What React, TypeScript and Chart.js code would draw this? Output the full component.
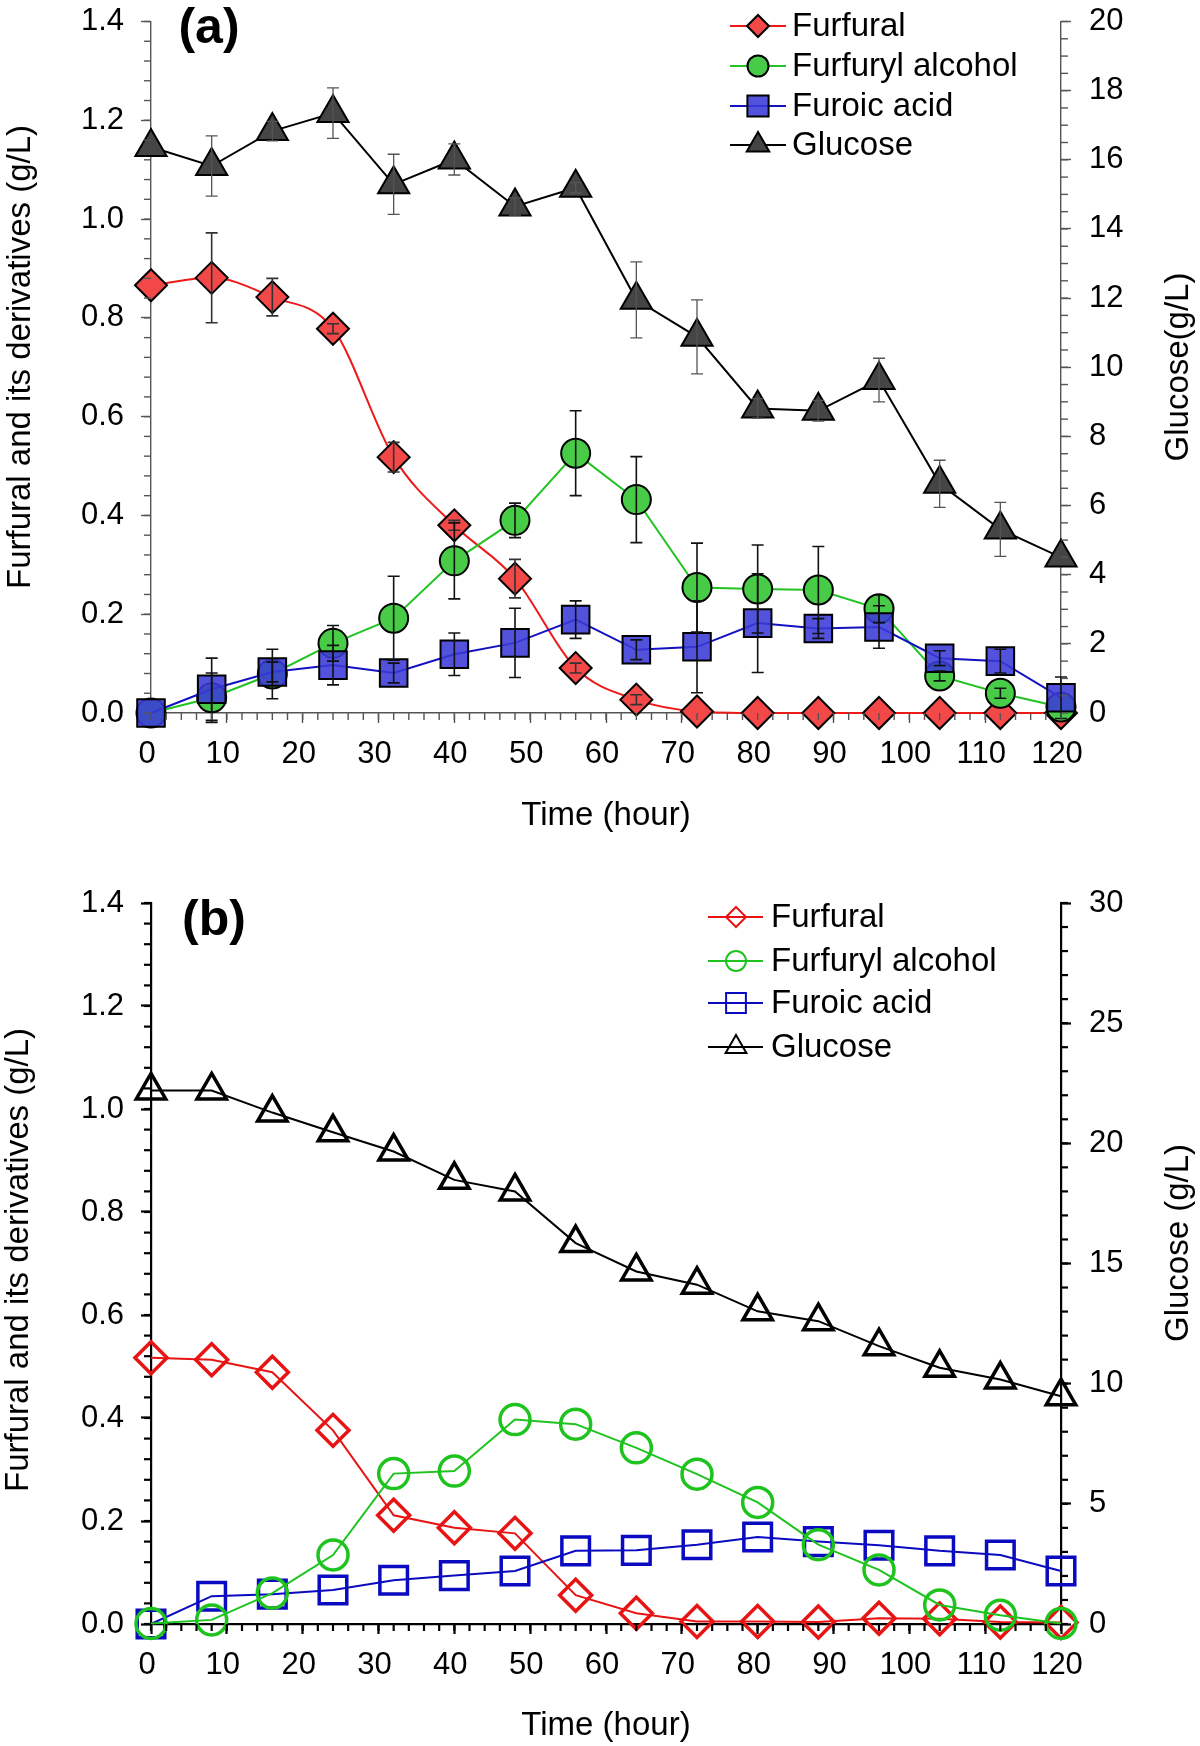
import React, { useEffect, useRef } from 'react';
import { Chart, registerables } from 'chart.js';

Chart.register(...registerables);

const FONT = "'Liberation Sans', Arial, Helvetica, sans-serif";

// ---------------- data ----------------
const TIMES = [0, 8, 16, 24, 32, 40, 48, 56, 64, 72, 80, 88, 96, 104, 112, 120];
const X_TICKS = [0, 10, 20, 30, 40, 50, 60, 70, 80, 90, 100, 110, 120];
const LEFT_TICKS = [0, 0.2, 0.4, 0.6, 0.8, 1.0, 1.2, 1.4];
const A_RIGHT_TICKS = [0, 2, 4, 6, 8, 10, 12, 14, 16, 18, 20];
const B_RIGHT_TICKS = [0, 5, 10, 15, 20, 25, 30];
const SERIES_NAMES = ['Furfural', 'Furfuryl alcohol', 'Furoic acid', 'Glucose'];

// panel (a)
const A_FURFURAL = [0.866, 0.881, 0.842, 0.778, 0.518, 0.38, 0.272, 0.091, 0.027, 0.003, 0, 0, 0, 0, 0, 0];
const A_FURFURAL_ERR = [0, 0.091, 0.038, 0.01, 0.03, 0.01, 0.039, 0.01, 0.01, 0, 0, 0, 0, 0, 0, 0];
const A_ALCOHOL = [0.0, 0.031, 0.079, 0.141, 0.192, 0.308, 0.39, 0.526, 0.432, 0.254, 0.251, 0.249, 0.211, 0.075, 0.04, 0.012];
const A_ALCOHOL_ERR = [0, 0.05, 0.05, 0.036, 0.085, 0.077, 0.035, 0.086, 0.087, 0.09, 0.089, 0.088, 0.028, 0.01, 0.01, 0];
const A_FUROIC = [0.0, 0.048, 0.083, 0.097, 0.081, 0.119, 0.142, 0.189, 0.128, 0.134, 0.182, 0.171, 0.174, 0.111, 0.105, 0.031];
const A_FUROIC_ERR = [0, 0.063, 0.02, 0.04, 0.02, 0.043, 0.07, 0.038, 0.02, 0.093, 0.1, 0.02, 0.043, 0.015, 0.024, 0.042];
const A_GLUCOSE = [16.37, 15.82, 16.83, 17.35, 15.29, 16.01, 14.65, 15.19, 11.95, 10.88, 8.81, 8.74, 9.63, 6.63, 5.31, 4.5];
const A_GLUCOSE_ERR = [0, 0.87, 0.28, 0.73, 0.87, 0.45, 0.25, 0.15, 1.1, 1.07, 0.28, 0.3, 0.63, 0.68, 0.78, 0];

// panel (b)
const B_FURFURAL = [0.517, 0.513, 0.489, 0.376, 0.211, 0.187, 0.176, 0.056, 0.021, 0.005, 0.005, 0.004, 0.011, 0.01, 0.004, 0.003];
const B_ALCOHOL = [0.001, 0.008, 0.06, 0.134, 0.292, 0.297, 0.397, 0.388, 0.342, 0.291, 0.236, 0.154, 0.105, 0.037, 0.017, 0.001];
const B_FUROIC = [0.0, 0.054, 0.058, 0.066, 0.085, 0.094, 0.103, 0.142, 0.143, 0.154, 0.169, 0.16, 0.153, 0.142, 0.134, 0.103];
const B_GLUCOSE = [22.2, 22.2, 21.28, 20.46, 19.66, 18.48, 18.0, 15.85, 14.67, 14.12, 13.01, 12.6, 11.56, 10.66, 10.17, 9.48];

// ---------------- panel specs (layout + styles) ----------------
const PANEL_A = {
  height: 860,
  areaTop: 19,
  areaBottom: 713,
  areaLeft: 151,
  areaRight: 1061,
  rightMax: 20,
  rightTicks: A_RIGHT_TICKS,
  rightMinor: 0.5,
  leftTitle: 'Furfural and its derivatives (g/L)',
  leftTitlePos: [21, 357],
  rightTitle: 'Glucose(g/L)',
  rightTitlePos: [1179, 367],
  axisColor: '#555555',
  axisWidth: 1.4,
  minorLen: 7,
  xTitlePad: 24,
  label: '(a)',
  labelPos: [209, 29],
  legend: { x1: 730, x2: 786, xm: 758, xt: 792, rows: [26, 66, 106, 145], markerBorder: 2, lineWidth: 2 },
  series: [
    { values: A_FURFURAL, errors: A_FURFURAL_ERR, line: '#EE1A1A', fill: '#F24848', stroke: '#000', style: 'rectRot', r: 16, bw: 2, lw: 2, smooth: true, order: 4, errorColor: '#333', legendR: 11 },
    { values: A_ALCOHOL, errors: A_ALCOHOL_ERR, line: '#22C322', fill: '#48CC48', stroke: '#000', style: 'circle', r: 14.5, bw: 2, lw: 2, smooth: false, order: 3, errorColor: '#111', legendR: 10.5 },
    { values: A_FUROIC, errors: A_FUROIC_ERR, line: '#1212C0', fill: 'rgba(58,58,215,0.88)', stroke: '#000', style: 'rect', r: 19.5, bw: 2, lw: 2, smooth: false, order: 2, errorColor: '#111', legendR: 15 },
    { values: A_GLUCOSE, errors: A_GLUCOSE_ERR, line: '#000000', fill: '#454545', stroke: '#000', style: 'triangle', r: 18, bw: 2, lw: 2, smooth: false, order: 1, errorColor: '#555', legendR: 13 },
  ],
};

const PANEL_B = {
  height: 886,
  areaTop: 43,
  areaBottom: 764,
  areaLeft: 151,
  areaRight: 1061,
  rightMax: 30,
  rightTicks: B_RIGHT_TICKS,
  rightMinor: 1,
  leftTitle: 'Furfural and its derivatives (g/L)',
  leftTitlePos: [19, 400],
  rightTitle: 'Glucose (g/L)',
  rightTitlePos: [1179, 383],
  axisColor: '#000000',
  axisWidth: 2.2,
  minorLen: 7,
  xTitlePad: 0,
  label: '(b)',
  labelPos: [214, 61],
  legend: { x1: 708, x2: 763, xm: 736, xt: 771, rows: [57, 101, 143, 187], markerBorder: 2, lineWidth: 2 },
  series: [
    { values: B_FURFURAL, errors: null, line: '#E81414', fill: 'rgba(0,0,0,0)', stroke: '#E81414', style: 'rectRot', r: 16, bw: 3.5, lw: 2, smooth: false, order: 4, errorColor: '#000', legendR: 10 },
    { values: B_ALCOHOL, errors: null, line: '#1EC31E', fill: 'rgba(0,0,0,0)', stroke: '#1EC31E', style: 'circle', r: 15, bw: 3.5, lw: 2, smooth: false, order: 2, errorColor: '#000', legendR: 10 },
    { values: B_FUROIC, errors: null, line: '#0A0AC0', fill: 'rgba(0,0,0,0)', stroke: '#0A0AC0', style: 'rect', r: 19.5, bw: 3.5, lw: 2, smooth: false, order: 3, errorColor: '#000', legendR: 14 },
    { values: B_GLUCOSE, errors: null, line: '#000000', fill: 'rgba(0,0,0,0)', stroke: '#000000', style: 'triangle', r: 17, bw: 3.5, lw: 2, smooth: false, order: 1, errorColor: '#000', legendR: 12 },
  ],
};

// ---------------- drawing helpers ----------------
function drawMarker(ctx: CanvasRenderingContext2D, style: string, x: number, y: number, r: number, fill: string, stroke: string, lw: number) {
  ctx.beginPath();
  if (style === 'circle') {
    ctx.arc(x, y, r, 0, Math.PI * 2);
  } else if (style === 'rectRot') {
    ctx.moveTo(x - r, y);
    ctx.lineTo(x, y - r);
    ctx.lineTo(x + r, y);
    ctx.lineTo(x, y + r);
    ctx.closePath();
  } else if (style === 'rect') {
    const h = r * Math.SQRT1_2;
    ctx.rect(x - h, y - h, 2 * h, 2 * h);
  } else if (style === 'triangle') {
    for (let k = 0; k < 3; k++) {
      const a = (k * 2 * Math.PI) / 3;
      const px = x + Math.sin(a) * r;
      const py = y - Math.cos(a) * r;
      if (k === 0) ctx.moveTo(px, py);
      else ctx.lineTo(px, py);
    }
    ctx.closePath();
  }
  ctx.fillStyle = fill;
  ctx.fill();
  if (lw > 0) {
    ctx.strokeStyle = stroke;
    ctx.lineWidth = lw;
    ctx.stroke();
  }
}

function makePlugins(p: any) {
  const minorTicks = {
    id: 'minorTicks',
    afterDraw(chart: any) {
      const ctx = chart.ctx;
      ctx.save();
      ctx.strokeStyle = p.axisColor;
      ctx.lineWidth = p.axisWidth;
      const steps: [string, number][] = [['x', 2], ['y', 0.04], ['y2', p.rightMinor]];
      for (const [id, step] of steps) {
        const s = chart.scales[id];
        const n = Math.round((s.max - s.min) / step);
        for (let i = 0; i <= n; i++) {
          const v = s.min + i * step;
          const px = s.getPixelForValue(v);
          ctx.beginPath();
          if (id === 'x') {
            ctx.moveTo(px, s.top);
            ctx.lineTo(px, s.top + p.minorLen);
          } else if (id === 'y') {
            ctx.moveTo(s.right, px);
            ctx.lineTo(s.right - p.minorLen, px);
          } else {
            ctx.moveTo(s.left, px);
            ctx.lineTo(s.left + p.minorLen, px);
          }
          ctx.stroke();
        }
      }
      ctx.restore();
    },
  };

  const errorBars = {
    id: 'errorBars',
    afterDatasetsDraw(chart: any) {
      const ctx = chart.ctx;
      ctx.save();
      p.series.forEach((s: any, i: number) => {
        if (!s.errors) return;
        const ys = chart.scales[i === 3 ? 'y2' : 'y'];
        const xs = chart.scales.x;
        ctx.strokeStyle = s.errorColor;
        ctx.lineWidth = i === 3 ? 1.3 : 1.6;
        TIMES.forEach((t, j) => {
          const e = s.errors[j];
          if (!e) return;
          const px = xs.getPixelForValue(t);
          const top = ys.getPixelForValue(s.values[j] + e);
          const bot = ys.getPixelForValue(s.values[j] - e);
          ctx.beginPath();
          ctx.moveTo(px, top);
          ctx.lineTo(px, bot);
          ctx.moveTo(px - 6, top);
          ctx.lineTo(px + 6, top);
          ctx.moveTo(px - 6, bot);
          ctx.lineTo(px + 6, bot);
          ctx.stroke();
        });
      });
      ctx.restore();
    },
  };

  const decorations = {
    id: 'decorations',
    afterDraw(chart: any) {
      const ctx = chart.ctx;
      const L = p.legend;
      ctx.save();
      chart.data.datasets.forEach((ds: any, i: number) => {
        const s = p.series[i];
        const y = L.rows[i];
        ctx.strokeStyle = s.line;
        ctx.lineWidth = L.lineWidth;
        ctx.beginPath();
        ctx.moveTo(L.x1, y);
        ctx.lineTo(L.x2, y);
        ctx.stroke();
        drawMarker(ctx, s.style, L.xm, y, s.legendR, s.fill, s.stroke, L.markerBorder);
        ctx.fillStyle = '#000';
        ctx.font = `33px ${FONT}`;
        ctx.textAlign = 'left';
        ctx.textBaseline = 'middle';
        ctx.fillText(ds.label, L.xt, y + 1);
      });
      // panel label
      ctx.font = `bold 50px ${FONT}`;
      ctx.textAlign = 'center';
      ctx.textBaseline = 'middle';
      ctx.fillStyle = '#000';
      ctx.fillText(p.label, p.labelPos[0], p.labelPos[1]);
      // vertical titles
      ctx.font = `33px ${FONT}`;
      const vt = (text: string, x: number, y: number) => {
        ctx.save();
        ctx.translate(x, y);
        ctx.rotate(-Math.PI / 2);
        ctx.textAlign = 'center';
        ctx.textBaseline = 'middle';
        ctx.fillText(text, 0, 0);
        ctx.restore();
      };
      vt(p.leftTitle, p.leftTitlePos[0], p.leftTitlePos[1]);
      vt(p.rightTitle, p.rightTitlePos[0], p.rightTitlePos[1]);
      ctx.restore();
    },
  };

  return [minorTicks, errorBars, decorations];
}

function makeConfig(p: any): any {
  const tickFont = { family: FONT, size: 31 };
  // tiny line height on vertical axes so edge labels do not push the plot area
  const vTickFont = { family: FONT, size: 31, lineHeight: 0.01 };
  const grid = {
    drawOnChartArea: false,
    drawTicks: true,
    tickLength: 10,
    tickColor: p.axisColor,
    tickWidth: p.axisWidth,
  };
  const border = { display: true, color: p.axisColor, width: p.axisWidth };

  const datasets = p.series.map((s: any, i: number) => ({
    type: 'line',
    label: SERIES_NAMES[i],
    data: TIMES.map((t, j) => ({ x: t, y: s.values[j] })),
    yAxisID: i === 3 ? 'y2' : 'y',
    borderColor: s.line,
    borderWidth: s.lw,
    backgroundColor: s.fill,
    pointStyle: s.style,
    pointRadius: s.r,
    pointHoverRadius: s.r,
    pointBackgroundColor: s.fill,
    pointBorderColor: s.stroke,
    pointBorderWidth: s.bw,
    pointHoverBorderWidth: s.bw,
    fill: false,
    tension: s.smooth ? 0.4 : 0,
    cubicInterpolationMode: s.smooth ? 'monotone' : 'default',
    clip: false,
    order: s.order,
  }));

  return {
    type: 'line',
    data: { datasets },
    options: {
      animation: false,
      responsive: false,
      devicePixelRatio: 1,
      events: [],
      layout: { padding: { top: p.areaTop, left: 0, right: 0, bottom: 0 } },
      plugins: {
        legend: { display: false },
        tooltip: { enabled: false },
        title: { display: false },
      },
      scales: {
        x: {
          type: 'linear',
          position: 'bottom',
          min: 0,
          max: 120,
          afterBuildTicks: (s: any) => {
            s.ticks = X_TICKS.map((v) => ({ value: v }));
          },
          afterFit: (s: any) => {
            s.height = p.height - p.areaBottom;
          },
          ticks: { font: tickFont, color: '#000', padding: 13, labelOffset: -4, maxRotation: 0, minRotation: 0, autoSkip: false },
          grid,
          border,
          title: {
            display: true,
            text: 'Time (hour)',
            font: { family: FONT, size: 33 },
            color: '#000',
            padding: { top: 0, bottom: p.xTitlePad },
          },
        },
        y: {
          type: 'linear',
          position: 'left',
          min: 0,
          max: 1.4,
          afterBuildTicks: (s: any) => {
            s.ticks = LEFT_TICKS.map((v) => ({ value: v }));
          },
          afterFit: (s: any) => {
            s.width = p.areaLeft;
          },
          ticks: {
            font: vTickFont,
            color: '#000',
            padding: 17,
            autoSkip: false,
            callback: (v: any) => Number(v).toFixed(1),
          },
          grid,
          border,
          title: { display: false },
        },
        y2: {
          type: 'linear',
          position: 'right',
          min: 0,
          max: p.rightMax,
          afterBuildTicks: (s: any) => {
            s.ticks = p.rightTicks.map((v: number) => ({ value: v }));
          },
          afterFit: (s: any) => {
            s.width = 1200 - p.areaRight;
          },
          ticks: { font: vTickFont, color: '#000', padding: 18, autoSkip: false, callback: (v: any) => String(v) },
          grid,
          border,
          title: { display: false },
        },
      },
    },
    plugins: makePlugins(p),
  };
}

function Panel({ spec }: { spec: any }) {
  const ref = useRef<HTMLCanvasElement | null>(null);
  useEffect(() => {
    const chart = new Chart(ref.current as HTMLCanvasElement, makeConfig(spec));
    return () => chart.destroy();
  }, [spec]);
  return (
    <canvas
      ref={ref}
      width={1200}
      height={spec.height}
      style={{ display: 'block', width: 1200, height: spec.height }}
    />
  );
}

export default function App() {
  return (
    <div style={{ position: 'absolute', left: 0, top: 0, width: 1200, height: 1746, background: '#fff' }}>
      <Panel spec={PANEL_A} />
      <Panel spec={PANEL_B} />
    </div>
  );
}
